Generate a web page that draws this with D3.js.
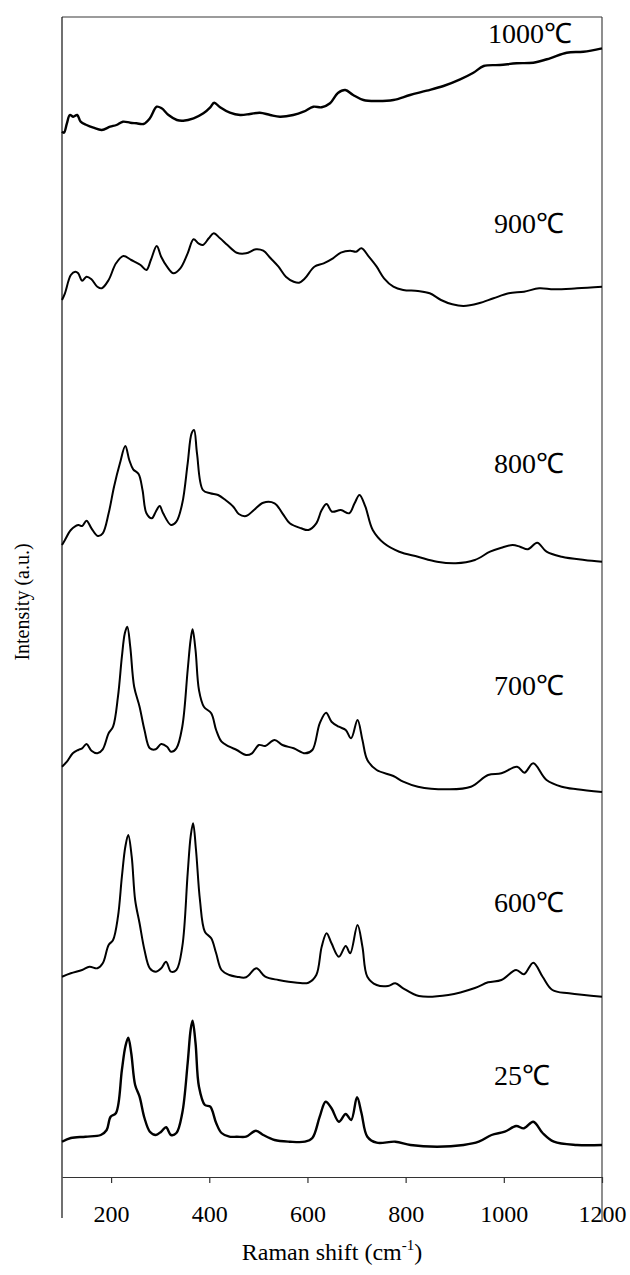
<!DOCTYPE html>
<html>
<head>
<meta charset="utf-8">
<script src="https://cdn.jsdelivr.net/npm/d3@7"></script>
<style>
  body { margin: 0; background: #fff; }
  svg { display: block; }
  text { font-family: "Liberation Serif", "Times New Roman", serif; fill: #000; }
</style>
</head>
<body>
<svg id="chart" width="630" height="1275"></svg>
<script>
// Raman spectra (intensity in a.u., relative to each trace's offset)
var shift25 = [100,118,148,179,191,199,210,222,229,235,241,249,258,268,279,291,302,312,322,333,345,356,362,366,372,379,391,402,414,425,441,456,475,495,510,533,564,595,610,625,637,649,664,678,689,701,710,722,741,779,810,864,918,949,975,1002,1025,1041,1060,1079,1102,1149,1200];
var int25 = [0.53,0.9,1.03,1.2,1.7,3.03,3.4,7.7,10.03,10.93,9.4,6.2,5.03,2.9,1.53,1.2,1.53,1.97,1.2,1.4,3.4,8.4,11.7,12.63,10.4,6.03,4.2,4.03,2.4,1.4,1.03,1.03,1.03,1.63,1.2,0.7,0.53,0.53,0.9,3.03,4.53,3.87,2.53,3.3,2.7,4.97,3.4,1.03,0.43,0.53,0.2,0.03,0.2,0.53,1.2,1.53,2.1,1.87,2.53,1.4,0.53,0.2,0.2];

var shift600 = [100,118,141,156,172,183,195,204,214,222,229,235,242,249,258,268,279,291,302,312,322,333,345,356,362,367,373,381,391,404,414,425,441,456,475,496,514,541,579,602,618,629,639,649,664,678,687,702,712,722,741,764,779,795,827,887,941,968,995,1025,1041,1060,1079,1099,1133,1200];
var int600 = [2.03,2.37,2.7,3.03,2.87,3.37,5.2,5.7,8.03,12.03,15.03,16.2,14.03,9.7,7.37,4.7,2.87,2.53,2.87,3.53,2.53,2.7,5.03,12.37,16.03,17.37,14.7,9.7,6.53,5.87,4.37,2.7,2.2,2.03,1.97,2.87,2.03,1.7,1.43,1.43,2.2,5.03,6.37,5.37,4.03,5.1,4.37,7.2,5.03,2.03,1.2,1.1,1.37,0.87,0.1,0.2,0.9,1.47,1.7,2.7,2.27,3.43,2.03,0.7,0.37,0.03];

var shift700 = [100,110,122,133,141,150,160,172,183,195,204,214,222,228,233,239,247,258,268,279,291,302,314,322,333,345,356,362,366,372,379,389,404,414,425,441,456,475,487,501,514,533,549,572,595,610,625,638,649,664,678,689,702,712,722,741,775,795,825,887,933,968,995,1027,1042,1060,1087,1118,1149,1200];
var int700 = [2.53,3.03,3.87,4.2,4.37,4.8,4.13,3.87,4.27,5.87,6.53,9.53,13.53,15.87,16.53,14.53,10.53,8.53,6.2,4.37,4.27,4.8,4.53,4.03,4.37,6.53,12.2,15.2,16.27,14.2,10.2,8.53,7.87,6.2,5.03,4.53,4.2,3.7,3.87,4.7,4.6,5.2,4.7,4.37,3.87,4.2,6.87,7.93,7.03,6.53,6.2,5.37,7.2,5.2,3.2,2.2,1.6,1.03,0.53,0.27,0.53,1.7,1.87,2.53,1.93,2.87,1.2,0.53,0.27,0];

var shift800 = [100,106,118,133,141,150,160,173,183,195,206,218,229,237,245,256,264,272,283,291,299,306,322,333,345,356,364,369,375,387,402,418,433,449,460,475,491,510,533,549,564,587,602,618,629,639,650,668,685,696,706,718,733,756,787,825,864,902,941,972,995,1018,1033,1049,1068,1087,1118,1164,1200];
var int800 = [1.7,2.2,3.2,3.7,3.6,4.13,3.37,2.6,2.87,4.87,7.53,9.87,11.6,10.2,9.27,8.8,7.2,4.87,4.37,5.03,5.6,4.87,3.7,4.03,5.87,9.87,12.87,13.2,10.87,7.2,6.87,6.7,6.2,5.53,4.8,4.6,5.2,5.93,5.87,4.87,3.87,3.37,3.2,3.87,5.2,5.8,5.03,5.2,4.87,5.87,6.7,5.53,3.2,1.87,1.03,0.53,0.03,-0.13,0.2,1.03,1.43,1.7,1.53,1.27,1.93,1.03,0.53,0.2,0.03];

var shift900 = [100,106,118,127,133,141,150,160,172,181,195,210,225,241,260,272,281,293,302,314,327,341,356,368,378,387,399,409,422,437,456,475,495,510,525,541,556,572,583,595,614,633,652,668,687,699,710,725,741,756,775,795,825,849,872,895,918,949,979,1010,1041,1072,1102,1149,1200];
var int900 = [0.6,1.27,3.1,3.43,3.27,2.53,2.93,2.67,1.93,1.77,2.6,4.27,5.0,4.6,4.1,3.6,4.6,6.0,4.93,3.93,3.27,3.77,5.27,6.67,6.27,6.1,6.77,7.27,6.77,6.1,5.33,5.27,5.67,5.53,4.77,3.93,2.93,2.43,2.33,2.77,3.93,4.27,4.77,5.33,5.53,5.43,5.77,4.93,3.93,2.77,1.93,1.6,1.5,1.27,0.6,0.17,0,0.27,0.77,1.27,1.43,1.77,1.67,1.77,1.93];

var shift1000 = [100,104,110,116,123,131,138,150,164,181,198,211,224,239,252,266,279,293,303,317,334,347,368,388,402,410,422,442,463,483,503,524,544,571,592,612,629,646,662,677,693,714,741,775,809,843,877,911,938,959,992,1026,1060,1094,1128,1162,1200];
var int1000 = [0.13,0.03,0.97,1.8,1.63,1.8,1.13,0.8,0.53,0.3,0.63,0.8,1.13,1.03,0.97,0.9,1.47,2.63,2.47,1.8,1.3,1.23,1.47,1.97,2.57,3.03,2.57,2.03,1.8,1.9,2.03,1.8,1.63,1.8,2.13,2.63,2.57,2.97,4.0,4.3,3.8,3.3,3.2,3.3,3.8,4.23,4.7,5.37,6.03,6.7,6.8,6.97,7.03,7.47,8.03,8.13,8.47];

var labels  = ['25\u2103', '600\u2103', '700\u2103', '800\u2103', '900\u2103', '1000\u2103'];
var offsets = [3.0, 18.0, 38.5, 61.5, 87.1, 104.4];      // vertical stacking offset of each trace
var labelLevel = [6.2, 8.5, 9.7, 8.9, 7.3, 9.0];        // label height above its trace offset
var labelShift = [980, 980, 980, 980, 980, 968];        // label start on the shift axis
var xTicks = [200, 400, 600, 800, 1000, 1200];

(function() {
    'use strict';

    var shifts = [shift25, shift600, shift700, shift800, shift900, shift1000];
    var ints   = [int25, int600, int700, int800, int900, int1000];

    var series = labels.map(function(l, i) {
        return {
            label: l,
            offset: offsets[i],
            points: shifts[i].map(function(s, j) { return { x: s, y: ints[i][j] }; })
        };
    });

    var m = { left: 62, right: 602, top: 17, bottom: 1177 };

    var svg = d3.select('#chart');

    var x = d3.scaleLinear().domain([100, 1200]).range([m.left, m.right]);
    var y = d3.scaleLinear().domain([0, 116]).range([m.bottom, m.top]);

    // frame
    svg.append('line')
        .attr('x1', m.left).attr('x2', m.right).attr('y1', m.top).attr('y2', m.top)
        .attr('stroke', '#7a7a7a').attr('stroke-width', 1.6);
    svg.append('line')
        .attr('x1', m.left).attr('x2', m.left).attr('y1', m.top).attr('y2', 1218)
        .attr('stroke', '#111').attr('stroke-width', 1.2);
    svg.append('line')
        .attr('x1', m.right).attr('x2', m.right).attr('y1', m.top).attr('y2', 1222)
        .attr('stroke', '#444').attr('stroke-width', 1.2);

    // x axis
    var xAxis = d3.axisBottom(x)
        .tickValues(xTicks)
        .tickSizeInner(6)
        .tickSizeOuter(0)
        .tickPadding(22)
        .tickFormat(d3.format('d'));

    var gx = svg.append('g')
        .attr('transform', 'translate(0,' + m.bottom + ')')
        .call(xAxis);
    gx.select('.domain').attr('stroke', '#333').attr('stroke-width', 1.2);
    gx.selectAll('.tick line').attr('stroke', '#333').attr('stroke-width', 1.2);
    gx.selectAll('.tick text')
        .attr('font-size', 24)
        .attr('font-family', '"Liberation Serif", "Times New Roman", serif')
        .attr('fill', '#000');

    // traces
    var line = d3.line()
        .curve(d3.curveCatmullRom)
        .x(function(d) { return x(d.x); });

    svg.append('g').selectAll('path')
        .data(series)
        .enter()
        .append('path')
        .attr('fill', 'none')
        .attr('stroke', '#000')
        .attr('stroke-width', function(d, i) { return (i === 0 || i === 5) ? 2.4 : 2; })
        .attr('stroke-linejoin', 'round')
        .attr('d', function(d) {
            return line.y(function(p) { return y(p.y + d.offset); })(d.points);
        });

    // temperature labels
    svg.append('g').selectAll('text')
        .data(series)
        .enter()
        .append('text')
        .attr('x', function(d, i) { return x(labelShift[i]); })
        .attr('y', function(d, i) { return y(d.offset + labelLevel[i]); })
        .attr('font-size', 28)
        .text(function(d) { return d.label; });

    // axis titles
    var xt = svg.append('text')
        .attr('x', (m.left + m.right) / 2)
        .attr('y', 1260)
        .attr('text-anchor', 'middle')
        .attr('font-size', 24);
    xt.append('tspan').text('Raman shift (cm');
    xt.append('tspan').attr('font-size', 15).attr('dy', -10).text('-1');
    xt.append('tspan').attr('dy', 10).text(')');

    svg.append('text')
        .attr('transform', 'translate(29,602) rotate(-90)')
        .attr('text-anchor', 'middle')
        .attr('font-size', 20)
        .text('Intensity (a.u.)');
})();
</script>
</body>
</html>
